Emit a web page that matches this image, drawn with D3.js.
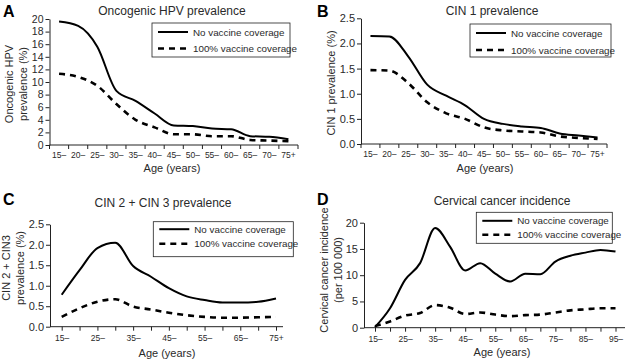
<!DOCTYPE html>
<html>
<head>
<meta charset="utf-8">
<script src="https://cdn.jsdelivr.net/npm/d3@7"></script>
<style>
  body { margin: 0; background: #fff; }
  svg { display: block; font-family: "Liberation Sans", Arial, Helvetica, sans-serif; }
  .domain, .tick line { stroke: #222; }
  text { fill: #2a2a2a; }
</style>
</head>
<body>
<div id="chart"></div>
<script>
// age groups
const ageGroupsAB = ["15–", "20–", "25–", "30–", "35–", "40–", "45–", "50–", "55–", "60–", "65–", "70–", "75+"];
const agesC = [15, 20, 25, 30, 35, 40, 45, 50, 55, 60, 65, 70, 75];
const agesD = [15, 20, 25, 30, 35, 40, 45, 50, 55, 60, 65, 70, 75, 80, 85, 90, 95];

// A - oncogenic HPV prevalence (%)
const hpvNoVaccine = [19.6, 18.9, 15.6, 8.6, 7.0, 5.0, 3.1, 3.0, 2.6, 2.5, 1.4, 1.3, 0.9];
const hpvVaccine = [11.3, 10.8, 9.4, 6.5, 4.0, 2.8, 1.7, 1.7, 1.4, 1.4, 0.8, 0.7, 0.6];

// B - CIN 1 prevalence (%)
const cin1NoVaccine = [2.15, 2.14, 1.74, 1.18, 0.96, 0.77, 0.50, 0.40, 0.35, 0.32, 0.21, 0.17, 0.13];
const cin1Vaccine = [1.47, 1.46, 1.21, 0.83, 0.61, 0.50, 0.33, 0.27, 0.25, 0.23, 0.15, 0.12, 0.10];

// C - CIN 2 + CIN 3 prevalence (%)
const cin23NoVaccine = [0.78, 1.38, 1.92, 2.05, 1.48, 1.22, 0.94, 0.74, 0.65, 0.59, 0.59, 0.61, 0.69];
const cin23Vaccine = [0.24, 0.45, 0.61, 0.67, 0.49, 0.42, 0.34, 0.28, 0.24, 0.22, 0.22, 0.23, 0.24];

// D - cervical cancer incidence (per 100 000)
const cancerNoVaccine = [0.1, 3.7, 9.1, 12.3, 19.0, 15.4, 10.9, 12.3, 10.3, 8.8, 10.3, 10.2, 12.6, 13.7, 14.3, 14.8, 14.5];
const cancerVaccine = [0.3, 1.2, 2.3, 2.8, 4.3, 3.8, 2.6, 2.9, 2.5, 2.2, 2.4, 2.5, 2.9, 3.3, 3.5, 3.7, 3.7];

const seriesNames = ["No vaccine coverage", "100% vaccine coverage"];

const W = 628, H = 359;
const svg = d3.select("#chart").append("svg").attr("width", W).attr("height", H);

function ageLabel(a, last) { return last ? a + "+" : a + "–"; }

function drawPanel(p) {
    const g = svg.append("g");

    const y = d3.scaleLinear().domain(p.yDomain).range([p.bottom, p.top]);

    let xPos;
    if (p.band) {
        const x = d3.scaleBand().domain(p.categories).range([p.left, p.right]);
        xPos = (d, i) => x(p.categories[i]) + x.bandwidth() / 2;
        // labels at band centres
        const ax = g.append("g").attr("transform", `translate(0,${p.bottom})`)
            .call(d3.axisBottom(x).tickSize(0).tickPadding(7));
        ax.select(".domain").remove();
        ax.selectAll("text").attr("font-size", 8.5);
        // ticks at band edges
        const edges = p.categories.map(c => x(c)).concat([x.range()[1]]);
        g.selectAll(".xedge").data(edges).join("line")
            .attr("x1", d => d).attr("x2", d => d)
            .attr("y1", p.bottom).attr("y2", p.bottom + 4)
            .attr("stroke", "#222");
    } else {
        const x = d3.scalePoint().domain(p.ages).range(p.pointRange);
        xPos = (d, i) => x(p.ages[i]);
        const last = p.ages[p.ages.length - 1];
        const ax = g.append("g").attr("transform", `translate(0,${p.bottom})`)
            .call(d3.axisBottom(x).tickSize(4).tickPadding(4)
                .tickFormat((a, i) => i % 2 === 0 ? ageLabel(a, p.plusLast && a === last) : ""));
        ax.select(".domain").remove();
        ax.selectAll("text").attr("font-size", 8.5);
    }
    // x axis line
    g.append("line").attr("x1", p.left).attr("x2", p.right)
        .attr("y1", p.bottom).attr("y2", p.bottom).attr("stroke", "#222");

    // y axis
    const ay = g.append("g").attr("transform", `translate(${p.left},0)`)
        .call(d3.axisLeft(y).tickValues(p.yTicks).tickSize(4).tickPadding(2).tickSizeOuter(0)
            .tickFormat(p.yFormat));
    ay.selectAll("text").attr("font-size", p.yFont);

    // lines
    const line = d3.line().x(xPos).y(d => y(d)).curve(d3.curveMonotoneX);
    g.append("path").datum(p.series[0]).attr("d", line)
        .attr("fill", "none").attr("stroke", "#000").attr("stroke-width", 2);
    g.append("path").datum(p.series[1]).attr("d", line)
        .attr("fill", "none").attr("stroke", "#000").attr("stroke-width", 2.6)
        .attr("stroke-dasharray", "6,5");

    // titles
    g.append("text").attr("x", p.letterX).attr("y", p.letterY).text(p.letter)
        .attr("font-size", 16).attr("font-weight", "bold").style("fill", "#000");
    g.append("text").attr("x", p.titleX).attr("y", p.titleY).text(p.title)
        .attr("font-size", 12).attr("text-anchor", "middle");
    g.append("text").attr("x", p.xLabelX).attr("y", p.xLabelY).text("Age (years)")
        .attr("font-size", 11).attr("text-anchor", "middle");

    const yl = g.append("text").attr("text-anchor", "middle").attr("font-size", 11)
        .attr("transform", `translate(${p.yLabelX},${p.yLabelY}) rotate(-90)`);
    p.yLabel.forEach((t, i) => {
        yl.append("tspan").attr("x", 0).attr("dy", i === 0 ? 0 : 14).text(t);
    });

    // legend
    const L = p.legend;
    g.append("rect").attr("x", L.x).attr("y", L.y).attr("width", L.w).attr("height", L.h)
        .attr("fill", "#fff").attr("stroke", "#222").attr("stroke-width", 0.8);
    seriesNames.forEach((name, i) => {
        const ry = L.y + L.row0 + i * L.rowGap;
        g.append("line").attr("x1", L.x + 6).attr("x2", L.x + 36)
            .attr("y1", ry).attr("y2", ry)
            .attr("stroke", "#000").attr("stroke-width", i === 0 ? 2 : 2.6)
            .attr("stroke-dasharray", i === 0 ? null : "6,5");
        g.append("text").attr("x", L.x + 41).attr("y", ry + 3.5).text(name)
            .attr("font-size", 9.8);
    });
}

drawPanel({
    letter: "A", letterX: 3, letterY: 17,
    title: "Oncogenic HPV prevalence", titleX: 172, titleY: 15,
    band: true, categories: ageGroupsAB,
    left: 49.5, right: 298, top: 19, bottom: 145,
    yDomain: [0, 20], yTicks: d3.range(0, 21, 2), yFormat: d3.format("d"), yFont: 10.5,
    yLabel: ["Oncogenic HPV", "prevalence (%)"], yLabelX: 13, yLabelY: 84,
    xLabelX: 172, xLabelY: 172,
    series: [hpvNoVaccine, hpvVaccine],
    legend: { x: 152, y: 23, w: 138, h: 34, row0: 9, rowGap: 16.5 }
});

drawPanel({
    letter: "B", letterX: 317, letterY: 17,
    title: "CIN 1 prevalence", titleX: 492, titleY: 15,
    band: true, categories: ageGroupsAB,
    left: 361, right: 607, top: 18.3, bottom: 144,
    yDomain: [0, 2.5], yTicks: d3.range(0, 2.51, 0.5), yFormat: d3.format(".1f"), yFont: 11,
    yLabel: ["CIN 1 prevalence (%)"], yLabelX: 335, yLabelY: 83,
    xLabelX: 485, xLabelY: 172,
    series: [cin1NoVaccine, cin1Vaccine],
    legend: { x: 470, y: 24, w: 141, h: 33, row0: 9, rowGap: 17 }
});

drawPanel({
    letter: "C", letterX: 3, letterY: 205,
    title: "CIN 2 + CIN 3 prevalence", titleX: 163, titleY: 207,
    band: false, ages: agesC, plusLast: true, pointRange: [61.7, 276],
    left: 50, right: 283, top: 224.3, bottom: 326.7,
    yDomain: [0, 2.5], yTicks: d3.range(0, 2.51, 0.5), yFormat: d3.format(".1f"), yFont: 11,
    yLabel: ["CIN 2 + CIN3", "prevalence (%)"], yLabelX: 10, yLabelY: 268,
    xLabelX: 167, xLabelY: 357,
    series: [cin23NoVaccine, cin23Vaccine],
    legend: { x: 153.3, y: 221.7, w: 140, h: 35, row0: 7.5, rowGap: 14.5 }
});

drawPanel({
    letter: "D", letterX: 317, letterY: 205,
    title: "Cervical cancer incidence", titleX: 502, titleY: 205,
    band: false, ages: agesD, plusLast: false, pointRange: [375, 615.5],
    left: 364, right: 625, top: 222.7, bottom: 327.7,
    yDomain: [0, 20], yTicks: d3.range(0, 21, 5), yFormat: d3.format("d"), yFont: 11,
    yLabel: ["Cervical cancer incidence", "(per 100 000)"], yLabelX: 328, yLabelY: 270,
    xLabelX: 502, xLabelY: 356,
    series: [cancerNoVaccine, cancerVaccine],
    legend: { x: 476.3, y: 212.3, w: 136, h: 31, row0: 8.5, rowGap: 14 }
});
</script>
</body>
</html>
